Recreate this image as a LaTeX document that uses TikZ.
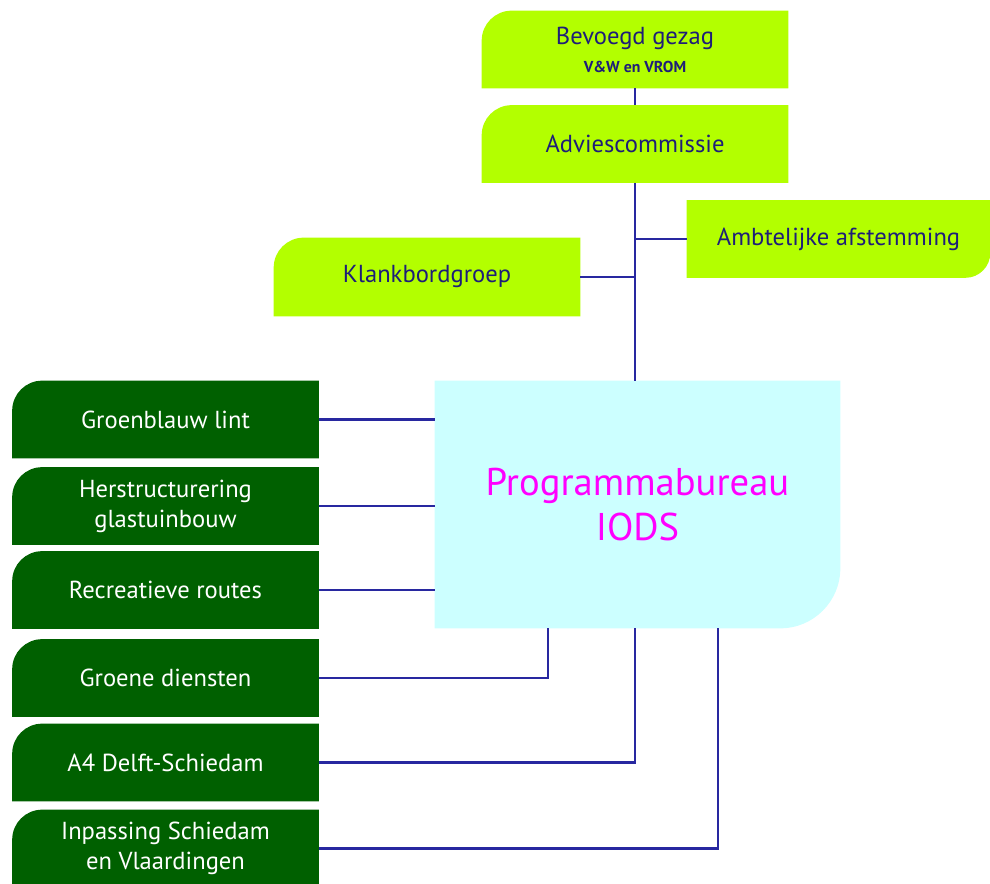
\documentclass[tikz,border=0pt]{standalone}
\usepackage{fontspec}
\setmainfont{PT Sans}
\usetikzlibrary{backgrounds}
\definecolor{lime}{HTML}{B3FF00}
\definecolor{donker}{HTML}{006000}
\definecolor{licht}{HTML}{CCFFFF}
\definecolor{lijn}{HTML}{2828A0}
\definecolor{tekst}{HTML}{1E1E78}
\definecolor{roze}{HTML}{FF00FF}
\begin{document}
\begin{tikzpicture}[x=0.02cm,y=-0.02cm,
  box/.style={inner sep=0pt,minimum width=6.12cm,minimum height=1.54cm,align=center,
    font=\fontsize{14}{17}\selectfont},
  topbox/.style={box,text=tekst},
  subbox/.style={box,text=white},
  con/.style={draw=lijn,line width=1.4pt}]
\useasboundingbox (0,0) rectangle (990,884);
\node[topbox] (bg) at (635,49.5) {Bevoegd gezag\\[-1pt]{\fontsize{9}{11}\selectfont\bfseries V\&W en VROM}};
\node[topbox] (ac) at (635,144) {Adviescommissie};
\node[topbox,minimum width=6.06cm] (af) at (838.5,239) {Ambtelijke afstemming};
\node[topbox,minimum height=1.56cm] (kb) at (427,277) {Klankbordgroep};
\node[box,minimum width=8.1cm,minimum height=4.94cm,text=roze,
  font=\fontsize{22}{26}\selectfont] (pb) at (637.5,504.5) {Programmabureau\\IODS};
\node[subbox] (gl) at (165.5,419.5) {Groenblauw lint};
\node[subbox] (hg) at (165.5,506) {Herstructurering\\glastuinbouw};
\node[subbox] (rr) at (165.5,590) {Recreatieve routes};
\node[subbox] (gd) at (165.5,678) {Groene diensten};
\node[subbox] (a4) at (165.5,762.5) {A4 Delft-Schiedam};
\node[subbox] (is) at (165.5,848.5) {Inpassing Schiedam\\en Vlaardingen};
\begin{scope}[on background layer]
\foreach \b in {bg,ac,kb}
  \fill[lime] (\b.north east) -- (\b.south east) -- (\b.south west) [rounded corners=0.6cm] -- (\b.north west) [sharp corners] -- cycle;
\fill[lime] (af.north west) -- (af.north east) [rounded corners=0.5cm] -- (af.south east) [sharp corners] -- (af.south west) -- cycle;
\fill[licht] (pb.north west) -- (pb.north east) [rounded corners=1.2cm] -- (pb.south east) [sharp corners] -- (pb.south west) -- cycle;
\foreach \b in {gl,hg,rr,gd,a4,is}
  \fill[donker] (\b.north east) -- (\b.south east) -- (\b.south west) [rounded corners=0.6cm] -- (\b.north west) [sharp corners] -- cycle;
\end{scope}
\draw[con] (bg.south) -- (ac.north);
\draw[con] (ac.south) -- (ac.south |- pb.north);
\draw[con] (af.west) -- (ac.south |- af.west);
\draw[con] (kb.east) -- (ac.south |- kb.east);
\foreach \b in {gl,hg,rr}
  \draw[con] (\b.east) -- (pb.west |- \b.east);
\draw[con] (gd.east) -| ([xshift=-1.79cm]pb.south);
\draw[con] (a4.east) -| (ac.south |- pb.south);
\draw[con] (is.east) -| ([xshift=1.61cm]pb.south);
\end{tikzpicture}
\end{document}
